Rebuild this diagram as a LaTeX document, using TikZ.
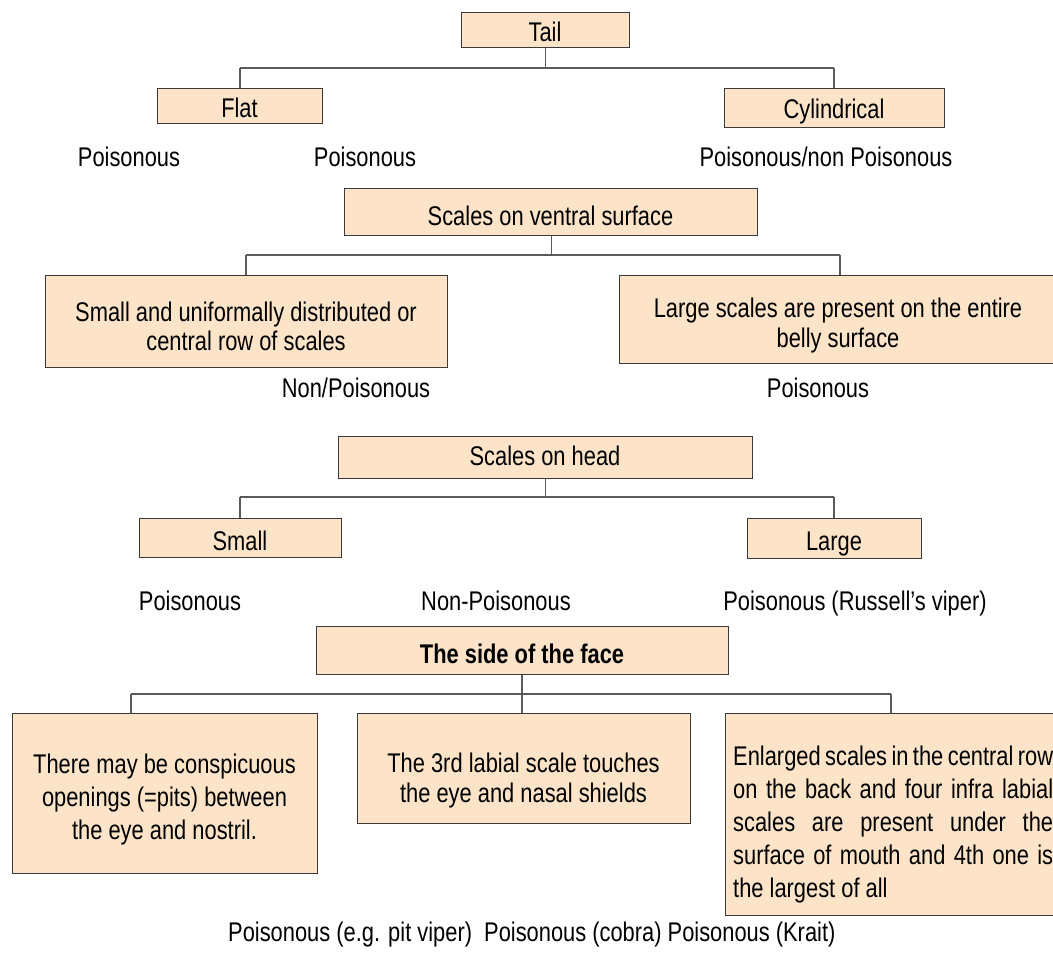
\documentclass[tikz,border=0pt]{standalone}
\usepackage{fontspec}
\setmainfont[FakeStretch=0.81]{Liberation Sans}
\definecolor{boxfill}{HTML}{FDE4C8}
\definecolor{boxline}{HTML}{3A3A3A}
\definecolor{conn}{HTML}{5A5A5A}
\begin{document}
\begin{tikzpicture}[x=1pt,y=-1pt,
  box/.style={draw=boxline, fill=boxfill, line width=1.3pt, inner sep=0pt, anchor=north west},
  lbl/.style={inner sep=0pt, anchor=base, font=\fontsize{27}{33}\selectfont},
  lblw/.style={lbl, anchor=base west},
  conline/.style={draw=conn, line width=1.3pt}]
\useasboundingbox (0,0) rectangle (1053,961);
% ---------- level 1
\node[box, minimum width=168, minimum height=35] (tail) at (461,12) {};
\node[box, minimum width=165, minimum height=35] (flat) at (157,88) {};
\node[box, minimum width=220, minimum height=39] (cyl) at (724,88) {};
\node[lbl] (tailt) at (545,41.5) {Tail};
\node[lbl] (flatt) at (239.5,117) {Flat};
\node[lbl] (cylt) at (834,118) {Cylindrical};
\node[lbl] (p1) at (129,166) {Poisonous};
\node[lbl] (p2) at (365,166) {Poisonous};
\node[lbl] (p3) at (826,166) {Poisonous/non Poisonous};
\coordinate (aL) at (240,68);
\coordinate (aR) at (834,68);
\draw[conline] (tail.south) -- (tail.south |- aL);
\draw[conline] (aL) -- (aR);
\draw[conline] (aL) -- (aL |- flat.north);
\draw[conline] (aR) -- (aR |- cyl.north);
% ---------- level 2
\node[box, minimum width=413, minimum height=47] (ventral) at (344,188) {};
\node[box, minimum width=402, minimum height=92] (small1) at (45,275) {};
\node[box, minimum width=440, minimum height=88] (large1) at (619,275) {};
\node[lbl] (ventralt) at (550.5,225) {Scales on ventral surface};
\node[lbl] (small1a) at (246,321) {Small and uniformally distributed or};
\node[lbl] (small1b) at (246,350) {central row of scales};
\node[lbl] (large1a) at (838,317) {Large scales are present on the entire};
\node[lbl] (large1b) at (838,347) {belly surface};
\node[lbl] (p4) at (356,397) {Non/Poisonous};
\node[lbl] (p5) at (818,397) {Poisonous};
\coordinate (bL) at (246,255);
\coordinate (bR) at (840,255);
\draw[conline] (ventral.south) -- (ventral.south |- bL);
\draw[conline] (bL) -- (bR);
\draw[conline] (bL) -- (bL |- small1.north);
\draw[conline] (bR) -- (bR |- large1.north);
% ---------- level 3
\node[box, minimum width=414, minimum height=42] (head) at (338,436) {};
\node[box, minimum width=202, minimum height=39] (small2) at (139,518) {};
\node[box, minimum width=174, minimum height=40] (large2) at (747,518) {};
\node[lbl] (headt) at (545,465) {Scales on head};
\node[lbl] (small2t) at (240,550) {Small};
\node[lbl] (large2t) at (834,550) {Large};
\node[lbl] (p6) at (190,610) {Poisonous};
\node[lbl] (p7) at (496,610) {Non-Poisonous};
\node[lbl] (p8) at (855,610) {Poisonous (Russell’s viper)};
\coordinate (cL) at (240,497);
\coordinate (cR) at (834,497);
\draw[conline] (head.south) -- (head.south |- cL);
\draw[conline] (cL) -- (cR);
\draw[conline] (cL) -- (cL |- small2.north);
\draw[conline] (cR) -- (cR |- large2.north);
% ---------- level 4
\node[box, minimum width=412, minimum height=48] (side) at (316,626) {};
\node[box, minimum width=305, minimum height=160] (pits) at (12,713) {};
\node[box, minimum width=333, minimum height=110] (labial) at (357,713) {};
\node[box, minimum width=340, minimum height=202] (krait) at (725,713) {};
\node[lbl, font=\fontsize{27}{33}\selectfont\bfseries] (sidet) at (522,663) {The side of the face};
\node[lbl] (pitsa) at (164.5,773) {There may be conspicuous};
\node[lbl] (pitsb) at (164.5,806) {openings (=pits) between};
\node[lbl] (pitsc) at (164.5,839) {the eye and nostril.};
\node[lbl] (labiala) at (523.5,772) {The 3rd labial scale touches};
\node[lbl] (labialb) at (523.5,802) {the eye and nasal shields};
\node[lblw] (kraita) at (733,765) {\makebox[320pt][s]{Enlarged scales in the central row}};
\node[lblw] (kraitb) at (733,798) {\makebox[320pt][s]{on the back and four infra labial}};
\node[lblw] (kraitc) at (733,831) {\makebox[320pt][s]{scales are present under the}};
\node[lblw] (kraitd) at (733,864) {\makebox[320pt][s]{surface of mouth and 4th one is}};
\node[lblw] (kraite) at (733,897) {the largest of all};
\node[lblw] (p9) at (228,941) {Poisonous (e.g. pit viper)\hspace{6pt} Poisonous (cobra) Poisonous (Krait)};
\coordinate (dL) at (131,694);
\coordinate (dM) at (522,694);
\coordinate (dR) at (891,694);
\draw[conline] (side.south -| dM) -- (dM);
\draw[conline] (dL) -- (dR);
\draw[conline] (dL) -- (dL |- pits.north);
\draw[conline] (dM) -- (dM |- labial.north);
\draw[conline] (dR) -- (dR |- krait.north);
\end{tikzpicture}
\end{document}
